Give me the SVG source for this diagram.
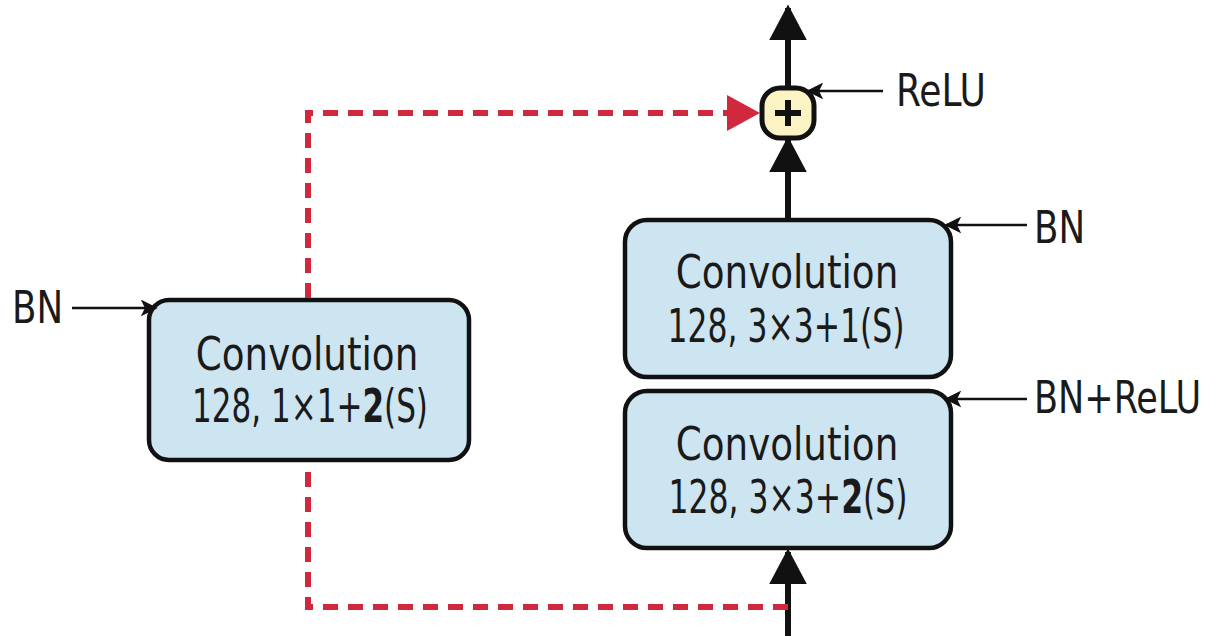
<svg xmlns="http://www.w3.org/2000/svg" width="1214" height="636" viewBox="0 0 1214 636">
<defs>
<style>
.box{fill:#cde4f1;stroke:#111;stroke-width:4.5}
.t{font-family:"DejaVu Sans Condensed","Liberation Sans Narrow","Liberation Sans",sans-serif;font-stretch:condensed;font-size:46px;fill:#1a1a1a;text-anchor:middle}
.lbl{font-family:"DejaVu Sans Condensed","Liberation Sans Narrow","Liberation Sans",sans-serif;font-stretch:condensed;font-size:44px;fill:#1a1a1a}
.b{font-weight:bold}
.thick{stroke:#111;stroke-width:6;fill:none}
.thin{stroke:#111;stroke-width:2.5;fill:none}
.red{stroke:#d0283c;stroke-width:6;fill:none;stroke-dasharray:15 10}
</style>
<marker id="big" viewBox="0 0 10 10" refX="9" refY="5" markerWidth="36" markerHeight="38" markerUnits="userSpaceOnUse" orient="auto" preserveAspectRatio="none"><path d="M0,0 L10,5 L0,10 z" fill="#111"/></marker>
<marker id="small" viewBox="0 0 10 10" refX="9" refY="5" markerWidth="17" markerHeight="17" markerUnits="userSpaceOnUse" orient="auto"><path d="M0,0 L10,5 L0,10 L2.5,5 z" fill="#111"/></marker>
</defs>
<g id="conv-left">
<rect class="box" x="149" y="300" width="320" height="160" rx="20"/>
<text class="t" transform="translate(307,370) scale(0.9,1)">Convolution</text>
<text class="t" transform="translate(310,422) scale(0.75,1)">128, 1×1+<tspan class="b">2</tspan>(S)</text>
</g>
<g id="conv-top">
<rect class="box" x="625" y="220" width="326" height="157" rx="22"/>
<text class="t" transform="translate(787,288) scale(0.9,1)">Convolution</text>
<text class="t" transform="translate(786,342) scale(0.76,1)">128, 3×3+1(S)</text>
</g>
<g id="conv-bottom">
<rect class="box" x="625" y="391" width="326" height="157" rx="22"/>
<text class="t" transform="translate(787,460) scale(0.9,1)">Convolution</text>
<text class="t" transform="translate(788,513) scale(0.76,1)">128, 3×3+<tspan class="b">2</tspan>(S)</text>
</g>
<g id="plus">
<rect x="762" y="88" width="52" height="50" rx="18" fill="#fbf3c4" stroke="#111" stroke-width="5"/>
<path d="M788,100 V126 M775,113 H801" stroke="#111" stroke-width="6"/>
</g>
<g id="connectors">
<line class="thick" x1="788" y1="88" x2="788" y2="8" marker-end="url(#big)"/>
<line class="thick" x1="788" y1="220" x2="788" y2="140" marker-end="url(#big)"/>
<line class="thick" x1="788" y1="636" x2="788" y2="552" marker-end="url(#big)"/>
<path class="red" d="M788,607 L308,607 L308,462"/>
<path class="red" d="M308,298 L308,113 L728,113"/>
<path d="M727,95 L760,113 L727,131 z" fill="#d0283c"/>
<line class="thin" x1="883" y1="91" x2="808" y2="91" marker-end="url(#small)"/>
<line class="thin" x1="1027" y1="225" x2="946" y2="225" marker-end="url(#small)"/>
<line class="thin" x1="1027" y1="399" x2="946" y2="399" marker-end="url(#small)"/>
<line class="thin" x1="72" y1="308" x2="156" y2="308" marker-end="url(#small)"/>
</g>
<g id="labels">
<text class="lbl" transform="translate(896,106) scale(0.91,1)">ReLU</text>
<text class="lbl" transform="translate(1034,243) scale(0.9,1)">BN</text>
<text class="lbl" transform="translate(1034,413) scale(0.886,1)">BN+ReLU</text>
<text class="lbl" transform="translate(12,323) scale(0.9,1)">BN</text>
</g>
</svg>
